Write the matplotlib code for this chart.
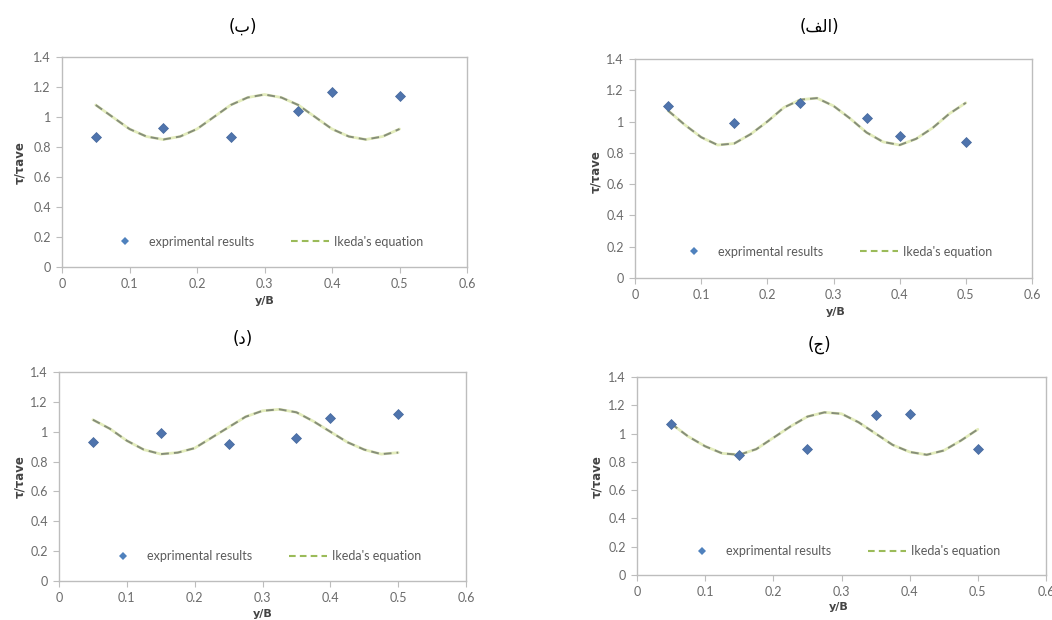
import matplotlib
matplotlib.use("Agg")
import matplotlib.pyplot as plt
from matplotlib.lines import Line2D

# ---------------- data ----------------
exp_x = [0.05, 0.15, 0.25, 0.35, 0.40, 0.50]
curve_x = [0.05, 0.075, 0.10, 0.125, 0.15, 0.175, 0.20, 0.225, 0.25, 0.275,
           0.30, 0.325, 0.35, 0.375, 0.40, 0.425, 0.45, 0.475, 0.50]

# panel (ب) top-left
exp_b = [0.87, 0.93, 0.87, 1.04, 1.17, 1.14]
ike_b = [1.08, 1.00, 0.92, 0.87, 0.85, 0.87, 0.92, 1.00, 1.08, 1.13,
         1.15, 1.13, 1.08, 1.00, 0.92, 0.87, 0.85, 0.87, 0.92]

# panel (الف) top-right
exp_alef = [1.10, 0.99, 1.12, 1.02, 0.91, 0.87]
ike_alef = [1.07, 0.98, 0.90, 0.85, 0.86, 0.92, 1.00, 1.09, 1.14, 1.15,
            1.10, 1.02, 0.93, 0.87, 0.85, 0.89, 0.96, 1.05, 1.12]

# panel (د) bottom-left
exp_dal = [0.93, 0.99, 0.92, 0.96, 1.09, 1.12]
ike_dal = [1.08, 1.02, 0.94, 0.88, 0.85, 0.86, 0.89, 0.96, 1.03, 1.10,
           1.14, 1.15, 1.13, 1.07, 1.00, 0.93, 0.88, 0.85, 0.86]

# panel (ج) bottom-right
exp_jim = [1.07, 0.85, 0.89, 1.13, 1.14, 0.89]
ike_jim = [1.07, 0.98, 0.91, 0.86, 0.85, 0.89, 0.97, 1.05, 1.12, 1.15,
           1.14, 1.08, 1.00, 0.92, 0.87, 0.85, 0.88, 0.95, 1.03]

x_ticks = [0, 0.1, 0.2, 0.3, 0.4, 0.5, 0.6]
y_ticks = [0, 0.2, 0.4, 0.6, 0.8, 1.0, 1.2, 1.4]
x_ticklabels = ["0", "0.1", "0.2", "0.3", "0.4", "0.5", "0.6"]
y_ticklabels = ["0", "0.2", "0.4", "0.6", "0.8", "1", "1.2", "1.4"]

legend_labels = ["exprimental results", "Ikeda's equation"]
xlabel = "y/B"
ylabel = "τ/τave"

# shaped Arabic titles (presentation forms, visual order)
title_b = "(\uFE8F)"
title_alef = "(\uFED2\uFEDF\uFE8D)"
title_dal = "(\uFEA9)"
title_jim = "(\uFE9D)"

# ---------------- style ----------------
W, H = 1052, 620
fig = plt.figure(figsize=(W / 100, H / 100), dpi=100)
fig.patch.set_facecolor("white")

MARK = "#4f74ad"
MARK_EDGE = "#45679c"
LINE_DARK = "#868e79"
LINE_LIGHT = "#e3ecbc"
LEG_GREEN = "#9bbb59"
FRAME = "#bdbdbd"
TICKC = "#6b6b6b"
FONT = "Lato"


def px_axes(left, right, top, bottom):
    return fig.add_axes([left / W, 1 - bottom / H, (right - left) / W, (bottom - top) / H])


def draw_panel(box, exp_y, ike_y, title, tpos, xlpos, ylpos):
    ax = px_axes(*box)
    ax.plot(curve_x, ike_y, color=LINE_LIGHT, lw=2.0, solid_capstyle="round", zorder=2)
    ax.plot(curve_x, ike_y, color=LINE_DARK, lw=1.4, dashes=(4.0, 2.6), zorder=3)
    ax.plot(exp_x, exp_y, linestyle="none", marker="D", markersize=5.0,
            color=MARK, markeredgecolor=MARK_EDGE, markeredgewidth=0.5, zorder=4)
    ax.set_xlim(0, 0.6)
    ax.set_ylim(0, 1.4)
    ax.set_xticks(x_ticks)
    ax.set_xticklabels(x_ticklabels)
    ax.set_yticks(y_ticks)
    ax.set_yticklabels(y_ticklabels)
    for s in ax.spines.values():
        s.set_color(FRAME)
        s.set_linewidth(1.0)
    ax.tick_params(axis="both", direction="out", length=4, width=0.8, color=FRAME,
                   labelsize=9, labelcolor=TICKC, pad=4)
    for lab in ax.get_xticklabels() + ax.get_yticklabels():
        lab.set_family(FONT)
    ax.tick_params(top=False, right=False)

    handles = [
        Line2D([], [], linestyle="none", marker="D", markersize=4.5, color="#4f81bd",
               markeredgewidth=0),
        Line2D([], [], color=LEG_GREEN, lw=1.5, dashes=(3.2, 2.0)),
    ]
    leg = ax.legend(handles, legend_labels, ncol=2, frameon=False,
                    loc="center", bbox_to_anchor=(0.5, 0.12),
                    prop={"family": FONT, "size": 9}, handlelength=3.0,
                    handletextpad=0.4, columnspacing=3.0)
    for t in leg.get_texts():
        t.set_color("#5a5a5a")

    fig.text(tpos[0] / W, 1 - tpos[1] / H, title, ha="center", va="center",
             fontsize=12, family="DejaVu Sans", color="black")
    fig.text(xlpos[0] / W, 1 - xlpos[1] / H, xlabel, ha="center", va="center",
             fontsize=8, fontweight="bold", family="DejaVu Sans", color="#444444")
    fig.text(ylpos[0] / W, 1 - ylpos[1] / H, ylabel, ha="center", va="center",
             rotation=90, fontsize=8.5, fontweight="bold", family="DejaVu Sans",
             color="#444444")
    return ax


draw_panel((62, 467, 57, 267), exp_b, ike_b, title_b, (243, 27), (265, 301), (20, 163))
draw_panel((635, 1032, 59, 278), exp_alef, ike_alef, title_alef, (819, 27), (836, 312), (596, 172))
draw_panel((59, 466, 372, 581), exp_dal, ike_dal, title_dal, (243, 339), (263, 614), (20, 477))
draw_panel((637, 1046, 377, 575), exp_jim, ike_jim, title_jim, (819, 345), (839, 607), (597, 477))

fig.savefig("out.png", dpi=100, facecolor="white")
